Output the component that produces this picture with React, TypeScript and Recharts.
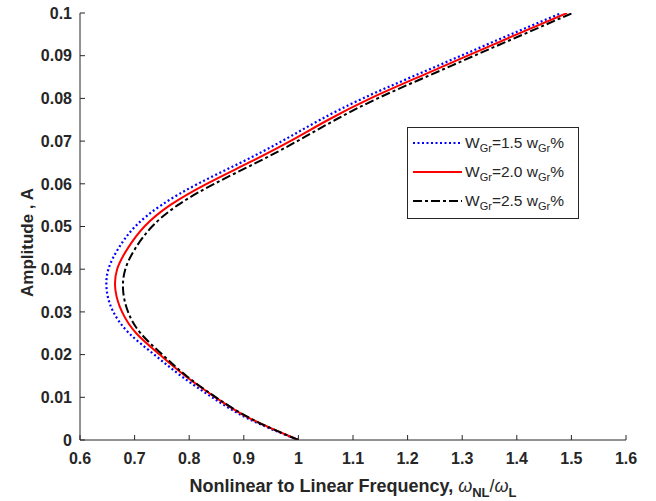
import { LineChart, Line, XAxis, YAxis, Legend } from "recharts";

// Amplitude levels (y) and the frequency ratio read for each curve
const amplitude = [
  0, 0.005, 0.01, 0.015, 0.02, 0.025, 0.03, 0.035, 0.04, 0.045, 0.05, 0.055,
  0.06, 0.065, 0.07, 0.075, 0.08, 0.085, 0.09, 0.095, 0.1,
];
const freqW15 = [
  1.0, 0.908, 0.842, 0.785, 0.736, 0.69, 0.661, 0.649, 0.652, 0.671, 0.701,
  0.749, 0.816, 0.895, 0.97, 1.04, 1.118, 1.207, 1.298, 1.389, 1.482,
];
const freqW20 = [
  1.0, 0.912, 0.848, 0.793, 0.746, 0.703, 0.677, 0.665, 0.668, 0.688, 0.718,
  0.765, 0.832, 0.91, 0.985, 1.055, 1.132, 1.22, 1.31, 1.4, 1.492,
];
const freqW25 = [
  1.0, 0.913, 0.849, 0.795, 0.751, 0.711, 0.688, 0.679, 0.683, 0.702, 0.732,
  0.779, 0.846, 0.924, 0.998, 1.068, 1.145, 1.233, 1.322, 1.412, 1.502,
];

const xTicks = [0.6, 0.7, 0.8, 0.9, 1, 1.1, 1.2, 1.3, 1.4, 1.5, 1.6];
const yTicks = [0, 0.01, 0.02, 0.03, 0.04, 0.05, 0.06, 0.07, 0.08, 0.09, 0.1];

const series = [
  { key: "w15", label: "1.5", color: "#0000ff", dash: "2 2.5", width: 2.2 },
  { key: "w20", label: "2.0", color: "#ff0000", dash: undefined, width: 2 },
  { key: "w25", label: "2.5", color: "#000000", dash: "9 3 3 3", width: 2 },
];

const chartData = amplitude.map((a, i) => ({
  A: a,
  w15: freqW15[i],
  w20: freqW20[i],
  w25: freqW25[i],
}));

const FONT = "'Liberation Sans', Arial, sans-serif";
const AXIS = "#262626";
const tickFont = { fontSize: 16, fontWeight: 700, fill: AXIS, fontFamily: FONT };

const BottomTick = ({ x, y, payload }: any) => (
  <g>
    <line x1={x} x2={x} y1={y} y2={y - 5} stroke={AXIS} />
    <text x={x} y={y + 24} textAnchor="middle" {...tickFont}>
      {String(payload.value)}
    </text>
  </g>
);

const LeftTick = ({ x, y, payload }: any) => (
  <g>
    <line x1={x} x2={x + 5} y1={y} y2={y} stroke={AXIS} />
    <text x={x - 8} y={y} dy="0.36em" textAnchor="end" {...tickFont}>
      {String(payload.value)}
    </text>
  </g>
);

const TopTick = ({ x, y }: any) => (
  <line x1={x} x2={x} y1={y} y2={y + 5} stroke={AXIS} />
);

const RightTick = ({ x, y }: any) => (
  <line x1={x} x2={x - 5} y1={y} y2={y} stroke={AXIS} />
);

const XTitle = ({ viewBox }: any) => (
  <text
    x={viewBox.x + viewBox.width / 2}
    y={viewBox.y + 52}
    textAnchor="middle"
    fontSize={18}
    fontWeight={700}
    fill={AXIS}
    fontFamily={FONT}
  >
    {"Nonlinear to Linear Frequency, "}
    <tspan fontStyle="italic" fontWeight={400}>ω</tspan>
    <tspan fontSize={13} dy={5}>NL</tspan>
    <tspan dy={-5} fontWeight={400}>/</tspan>
    <tspan fontStyle="italic" fontWeight={400}>ω</tspan>
    <tspan fontSize={13} dy={5}>L</tspan>
  </text>
);

const YTitle = ({ viewBox }: any) => {
  const cx = viewBox.x + 33;
  const cy = viewBox.y + viewBox.height / 2 + 16;
  return (
    <text
      x={cx}
      y={cy}
      transform={`rotate(-90 ${cx} ${cy})`}
      textAnchor="middle"
      fontSize={17}
      fontWeight={700}
      fill={AXIS}
      fontFamily={FONT}
    >
      Amplitude , A
    </text>
  );
};

const LegendBox = () => (
  <svg width={172} height={92} style={{ display: "block" }}>
    <rect x={0.5} y={0.5} width={171} height={91} fill="#fff" stroke={AXIS} />
    {series.map((s, i) => {
      const cy = 16 + i * 29;
      return (
        <g key={s.key}>
          <line
            x1={6}
            x2={55}
            y1={cy}
            y2={cy}
            stroke={s.color}
            strokeWidth={2}
            strokeDasharray={s.dash}
          />
          <text x={58} y={cy + 5} fontSize={15.5} fill={AXIS} fontFamily={FONT}>
            W<tspan fontSize={11} dy={4}>Gr</tspan>
            <tspan dy={-4}>={s.label} w</tspan>
            <tspan fontSize={11} dy={4}>Gr</tspan>
            <tspan dy={-4}>%</tspan>
          </text>
        </g>
      );
    })}
  </svg>
);

export default function App() {
  return (
    <div style={{ position: "absolute", left: 0, top: 0, width: 656, height: 501, background: "#fff" }}>
      <LineChart
        width={656}
        height={501}
        data={chartData}
        layout="vertical"
        margin={{ top: 13, right: 30, bottom: 0, left: 0 }}
      >
        <XAxis
          type="number"
          domain={[0.6, 1.6]}
          ticks={xTicks}
          interval={0}
          allowDataOverflow
          height={61}
          tickSize={0}
          tickMargin={0}
          tick={BottomTick}
          axisLine={{ stroke: AXIS }}
          label={<XTitle />}
        />
        <XAxis
          xAxisId="top"
          orientation="top"
          type="number"
          domain={[0.6, 1.6]}
          ticks={xTicks}
          interval={0}
          allowDataOverflow
          height={0}
          tickSize={0}
          tickMargin={0}
          tick={TopTick}
          axisLine={{ stroke: AXIS }}
        />
        <YAxis
          type="number"
          dataKey="A"
          domain={[0, 0.1]}
          ticks={yTicks}
          interval={0}
          allowDataOverflow
          reversed
          width={80}
          tickSize={0}
          tickMargin={0}
          tick={LeftTick}
          axisLine={{ stroke: AXIS }}
          label={<YTitle />}
        />
        <YAxis
          yAxisId="right"
          orientation="right"
          type="number"
          domain={[0, 0.1]}
          ticks={yTicks}
          interval={0}
          allowDataOverflow
          reversed
          width={0}
          tickSize={0}
          tickMargin={0}
          tick={RightTick}
          axisLine={{ stroke: AXIS }}
        />
        <Legend
          layout="vertical"
          align="center"
          verticalAlign="middle"
          content={LegendBox}
          wrapperStyle={{ left: 407, top: 127, width: 172, height: 92 }}
        />
        {series.map((s) => (
          <Line
            key={s.key}
            dataKey={s.key}
            type="natural"
            stroke={s.color}
            strokeWidth={s.width}
            strokeDasharray={s.dash}
            dot={false}
            activeDot={false}
            isAnimationActive={false}
          />
        ))}
      </LineChart>
    </div>
  );
}
